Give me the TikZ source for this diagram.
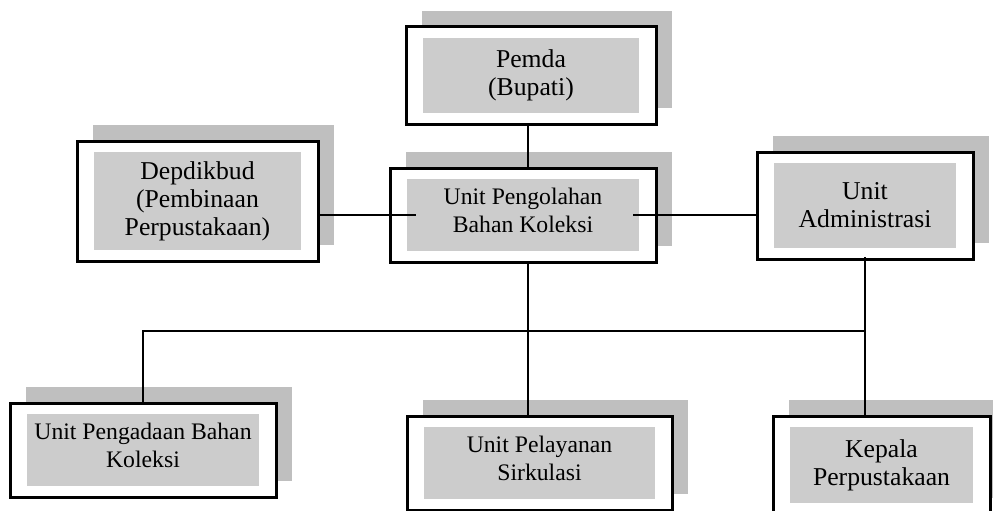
\documentclass[tikz,border=0pt]{standalone}
\usepackage{fontspec}
\setmainfont{Liberation Serif}
\usetikzlibrary{shadows}

\begin{document}
\begin{tikzpicture}[x=1pt,y=-1pt,
  orgbox/.style={draw, line width=3pt, fill=white, outer sep=0pt, inner sep=0pt, align=center,
    drop shadow={shadow xshift=16pt, shadow yshift=16pt, opacity=1, fill=black!25},
    path picture={\fill[black!20] ([shift={(17pt,-11pt)}]path picture bounding box.north west)
      rectangle ([shift={(-17pt,11pt)}]path picture bounding box.south east);}},
  bigtext/.style={font=\fontsize{25.7}{28}\selectfont},
  smalltext/.style={font=\fontsize{23.7}{28}\selectfont, text depth=10pt},
  link/.style={line width=1.2pt}]
\useasboundingbox (0,0) rectangle (993,511);
\clip (0,0) rectangle (993,511);

\node[orgbox, bigtext, minimum width=250pt, minimum height=97pt] (pemda) at (531,75.5) {Pemda\\(Bupati)};
\node[orgbox, bigtext, minimum width=241pt, minimum height=120pt] (depdikbud) at (197.5,201) {Depdikbud\\(Pembinaan\\Perpustakaan)};
\node[orgbox, smalltext, minimum width=266pt, minimum height=94pt] (olah) at (523,215) {Unit Pengolahan\\Bahan Koleksi};
\node[orgbox, bigtext, minimum width=216pt, minimum height=107pt] (admin) at (865,205.5) {Unit\\Administrasi};
\node[orgbox, smalltext, minimum width=266pt, minimum height=94pt] (adaan) at (143,450) {Unit Pengadaan Bahan\\Koleksi};
\node[orgbox, smalltext, minimum width=265pt, minimum height=94pt] (layanan) at (539.5,463) {Unit Pelayanan\\Sirkulasi};
\node[orgbox, bigtext, minimum width=217pt, minimum height=98pt] (kepala) at (881.5,465) {Kepala\\Perpustakaan};

\coordinate (bus) at (528,331);
\draw[link] (pemda.south -| bus) -- (olah.north -| bus);
\draw[link] (olah.south -| bus) -- (layanan.north -| bus);
\draw[link] (depdikbud.east |- olah.west) -- ([xshift=26pt]olah.west);
\draw[link] ([xshift=-23pt]olah.east) -- (olah.east -| admin.west);
\draw[link] ([yshift=2pt]admin.south) -- (admin.south |- kepala.north);
\draw[link] (adaan.north) |- (bus) -- (bus -| admin.south);
\end{tikzpicture}
\end{document}
